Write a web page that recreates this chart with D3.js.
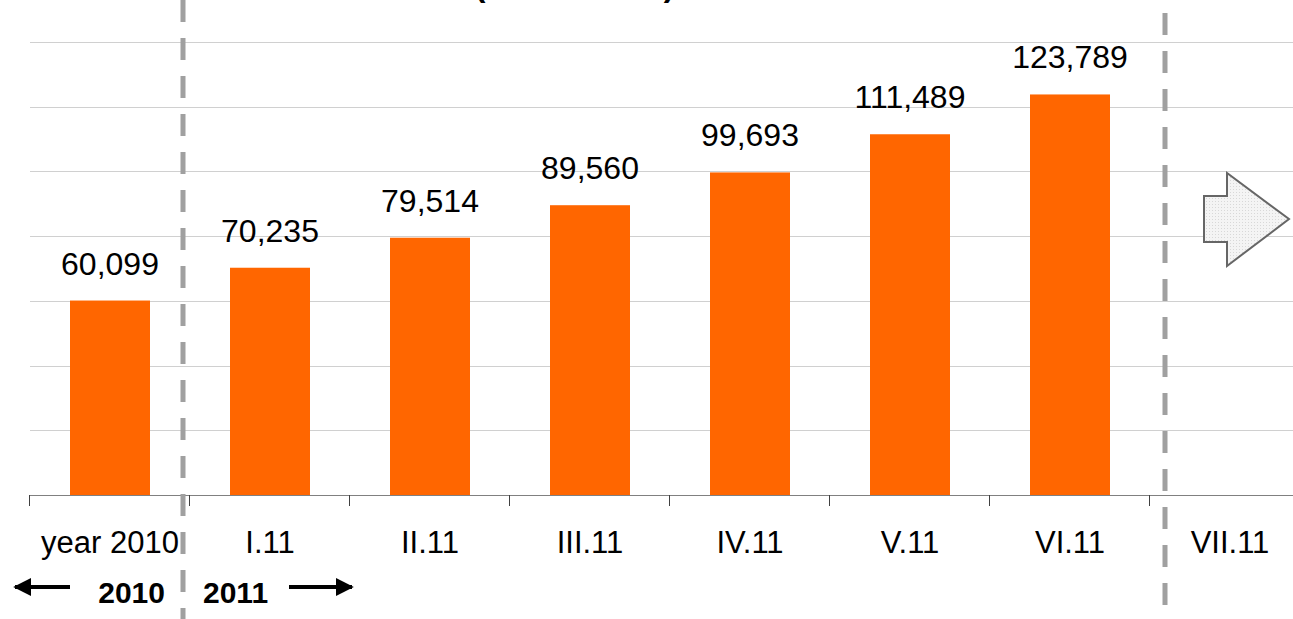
<!DOCTYPE html>
<html>
<head>
<meta charset="utf-8">
<script src="https://cdn.jsdelivr.net/npm/d3@7"></script>
<style>
  html, body { margin: 0; padding: 0; background: #fff; }
  svg { display: block; }
  text { font-family: "Liberation Sans", Arial, sans-serif; fill: #000; }
</style>
</head>
<body>
<svg id="chart" width="1293" height="619"></svg>
<script>
const categories = ["year 2010", "I.11", "II.11", "III.11", "IV.11", "V.11", "VI.11", "VII.11"];
const values = [60099, 70235, 79514, 89560, 99693, 111489, 123789, null];
const yTicks = [0, 20000, 40000, 60000, 80000, 100000, 120000, 140000];
const periodLabels = ["2010", "2011"];

const svg = d3.select("#chart");
const W = 1293, H = 619;

const x = d3.scaleBand().domain(categories).range([30, 1310]).paddingInner(0.5).paddingOuter(0.25);
const xEdges = d3.scaleLinear().domain([0, categories.length]).range([30, 1310]);
const y = d3.scaleLinear().domain([0, 140000]).range([495, 42]);

// gridlines
svg.append("g").selectAll("line").data(yTicks.slice(1)).join("line")
  .attr("x1", 30).attr("x2", W)
  .attr("y1", d => Math.round(y(d)) + 0.5).attr("y2", d => Math.round(y(d)) + 0.5)
  .attr("stroke", "#d0d0d0").attr("stroke-width", 1);

// bars
const data = categories.map((c, i) => ({ c, v: values[i] })).filter(d => d.v != null);
svg.append("g").selectAll("rect").data(data).join("rect")
  .attr("x", d => x(d.c)).attr("width", x.bandwidth())
  .attr("y", d => y(d.v)).attr("height", d => y(0) - y(d.v))
  .attr("fill", "#ff6600");

// value labels
const fmt = d3.format(",");
svg.append("g").selectAll("text").data(data).join("text")
  .attr("x", d => x(d.c) + x.bandwidth() / 2)
  .attr("y", d => y(d.v) - 26)
  .attr("text-anchor", "middle")
  .attr("font-size", 32)
  .text(d => fmt(d.v));

// x axis line and ticks at category boundaries
svg.append("line").attr("x1", 30).attr("x2", W).attr("y1", 495.5).attr("y2", 495.5)
  .attr("stroke", "#808080").attr("stroke-width", 1);
svg.append("g").selectAll("line").data(d3.range(categories.length + 1)).join("line")
  .attr("x1", d => Math.round(xEdges(d)) - 0.5).attr("x2", d => Math.round(xEdges(d)) - 0.5)
  .attr("y1", 495).attr("y2", 506)
  .attr("stroke", "#404040").attr("stroke-width", 1);

// category labels
svg.append("g").selectAll("text").data(categories).join("text")
  .attr("x", d => x(d) + x.bandwidth() / 2)
  .attr("y", 553)
  .attr("text-anchor", "middle")
  .attr("font-size", 31)
  .text(d => d);

// dashed separators
[[183, 0], [1165, 13]].forEach(([lx, y0]) => {
  svg.append("line")
    .attr("x1", lx).attr("x2", lx).attr("y1", y0).attr("y2", H + 20)
    .attr("stroke", "#a0a0a0").attr("stroke-width", 5)
    .attr("stroke-dasharray", "22,16");
});

// period labels
svg.append("text").attr("x", 165).attr("y", 603).attr("text-anchor", "end")
  .attr("font-size", 30).attr("font-weight", "bold").text(periodLabels[0]);
svg.append("text").attr("x", 203).attr("y", 603).attr("text-anchor", "start")
  .attr("font-size", 30).attr("font-weight", "bold").text(periodLabels[1]);

// arrows
const defs = svg.append("defs");
defs.append("marker").attr("id", "ah").attr("viewBox", "0 0 10 10")
  .attr("refX", 9).attr("refY", 5).attr("markerWidth", 4.5).attr("markerHeight", 4.5)
  .attr("markerUnits", "strokeWidth").attr("orient", "auto")
  .append("path").attr("d", "M0,0 L10,5 L0,10 z").attr("fill", "#000");
svg.append("line").attr("x1", 70).attr("x2", 15).attr("y1", 587).attr("y2", 587)
  .attr("stroke", "#000").attr("stroke-width", 4).attr("marker-end", "url(#ah)");
svg.append("line").attr("x1", 289).attr("x2", 352).attr("y1", 587).attr("y2", 587)
  .attr("stroke", "#000").attr("stroke-width", 4).attr("marker-end", "url(#ah)");

// dotted pattern block arrow
const pat = defs.append("pattern").attr("id", "dots").attr("width", 3).attr("height", 3)
  .attr("patternUnits", "userSpaceOnUse");
pat.append("rect").attr("width", 3).attr("height", 3).attr("fill", "#f4f4f4");
pat.append("rect").attr("width", 1).attr("height", 1).attr("fill", "#d8d8d8");
svg.append("path")
  .attr("d", "M1204,196 L1227,196 L1227,173 L1289,219 L1227,266 L1227,242 L1204,242 Z")
  .attr("fill", "url(#dots)").attr("stroke", "#666").attr("stroke-width", 2)
  .attr("stroke-linejoin", "miter");

// title, clipped by the top edge as in the reference (only parenthesis tails visible)
svg.append("text").attr("x", 480).attr("y", -4).attr("text-anchor", "middle")
  .attr("font-size", 32).attr("font-weight", "bold").text("(");
svg.append("text").attr("x", 669).attr("y", -4).attr("text-anchor", "middle")
  .attr("font-size", 32).attr("font-weight", "bold").text(")");
</script>
</body>
</html>
